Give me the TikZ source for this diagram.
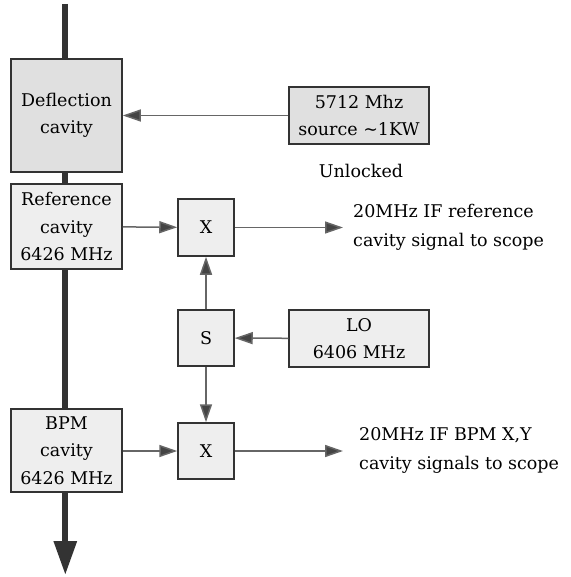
\documentclass[tikz,border=0pt]{standalone}
\usepackage{fontspec}
\setmainfont{DejaVu Serif}
\usetikzlibrary{arrows.meta}
\definecolor{boxline}{HTML}{333333}
\definecolor{darkfill}{HTML}{E0E0E0}
\definecolor{lightfill}{HTML}{EEEEEE}
\definecolor{wire}{HTML}{666666}
\definecolor{tipgray}{HTML}{444444}

\begin{document}
\begin{tikzpicture}[x=1pt,y=-1pt,
    blk/.style={draw=boxline,line width=1.5pt,fill=lightfill,align=center,inner sep=0pt,
        font=\fontsize{17.5}{27.5}\selectfont},
    lbl/.style={align=left,inner sep=0pt,font=\fontsize{17.5}{29}\selectfont},
    conn/.style={draw=wire,line width=1.5pt,-{Triangle[length=18pt,width=12pt,fill=tipgray]}},
    beam/.style={draw=boxline,line width=6pt,-{Triangle[length=34pt,width=22pt]}}]
    \useasboundingbox (0,0) rectangle (570,577);

    \coordinate (beamtop) at (65.3,4);
    \coordinate (beamend) at (65.3,575);
    \draw[beam] (beamtop) -- (beamend);

    \node[blk,fill=darkfill,minimum width=111pt,minimum height=113pt] (defl) at (66.5,115.5) {Deflection\\cavity};
    \node[blk,fill=darkfill,minimum width=140pt,minimum height=57pt] (src) at (359,115.5) {5712 Mhz\\source \textasciitilde1KW};
    \node[lbl] (unlk) at (361,171) {Unlocked};

    \node[blk,minimum width=111pt,minimum height=85pt] (refc) at (66.5,226.5) {Reference\\cavity\\6426 MHz};
    \node[blk,minimum width=56pt,minimum height=57pt] (mixA) at (206,227.5) {X};
    \node[lbl,anchor=west] (outA) at (353,227.5) {20MHz IF reference\\cavity signal to scope};
    \coordinate (endA) at (343,227.5);

    \node[blk,minimum width=56pt,minimum height=56pt] (splt) at (206,338) {S};
    \node[blk,minimum width=140pt,minimum height=57pt] (lo) at (359,338.5) {LO\\6406 MHz};

    \node[blk,minimum width=111pt,minimum height=83pt] (bpm) at (66.5,450.5) {BPM\\cavity\\6426 MHz};
    \node[blk,minimum width=56pt,minimum height=56pt] (mixB) at (206,451) {X};
    \node[lbl,anchor=west] (outB) at (359,450) {20MHz IF BPM X,Y\\cavity signals to scope};
    \coordinate (endB) at (343,451);

    \draw[conn] (src) -- (defl);
    \draw[conn] (refc) -- (mixA);
    \draw[conn] (mixA) -- (endA);
    \draw[conn] (lo) -- (splt);
    \draw[conn] (splt) -- (mixA);
    \draw[conn] (splt) -- (mixB);
    \draw[conn] (bpm.east |- mixB) -- (mixB);
    \draw[conn] (mixB) -- (endB);
\end{tikzpicture}
\end{document}
